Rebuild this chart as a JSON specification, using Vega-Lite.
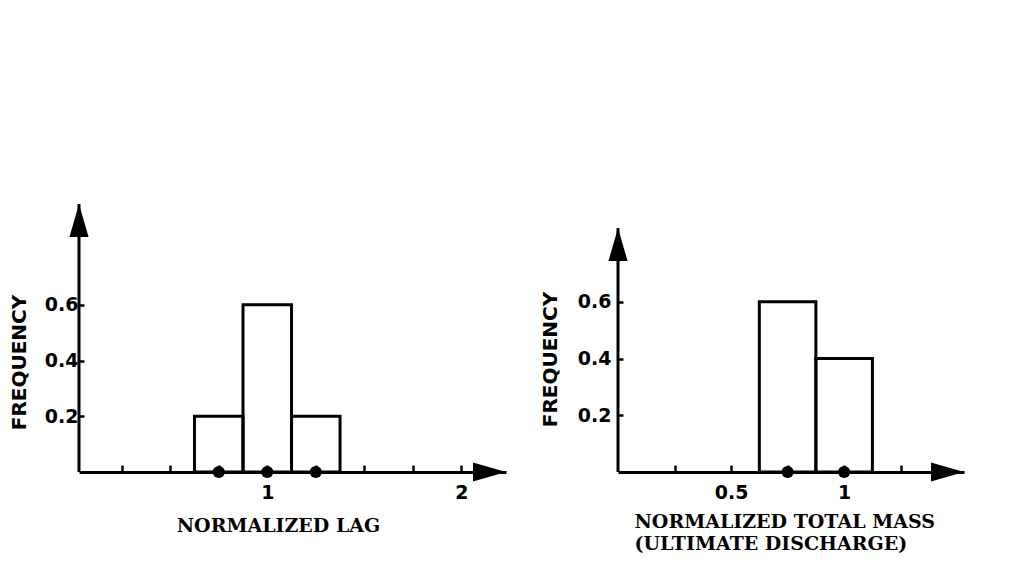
{
  "$schema": "https://vega.github.io/schema/vega-lite/v6.json",
  "background": "white",
  "padding": {"left": 9, "top": 202, "right": 5, "bottom": 5},
  "spacing": 112,
  "bounds": "flush",
  "config": {
    "view": {"stroke": null},
    "axis": {
      "grid": false,
      "domainColor": "black",
      "domainWidth": 3,
      "tickColor": "black",
      "tickWidth": 2.5,
      "labelColor": "black",
      "titleColor": "black",
      "labelFont": "DejaVu Sans",
      "labelFontWeight": "bold",
      "labelFontSize": 19,
      "labelOverlap": false,
      "labelFlush": false
    }
  },
  "datasets": {
    "lag_bins": [
      {"bin_start": 0.625, "bin_end": 0.875, "frequency": 0.2},
      {"bin_start": 0.875, "bin_end": 1.125, "frequency": 0.6},
      {"bin_start": 1.125, "bin_end": 1.375, "frequency": 0.2}
    ],
    "lag_points": [
      {"value": 0.75},
      {"value": 1.0},
      {"value": 1.25}
    ],
    "mass_bins": [
      {"bin_start": 0.625, "bin_end": 0.875, "frequency": 0.6},
      {"bin_start": 0.875, "bin_end": 1.125, "frequency": 0.4}
    ],
    "mass_points": [
      {"value": 0.75},
      {"value": 1.0}
    ]
  },
  "hconcat": [
    {
      "width": 427,
      "height": 268,
      "layer": [
        {
          "data": {"name": "lag_bins"},
          "mark": {"type": "rect", "filled": false, "stroke": "black", "strokeWidth": 3},
          "encoding": {
            "x": {
              "field": "bin_start",
              "type": "quantitative",
              "scale": {"domain": [0.03, 2.23], "nice": false, "zero": false},
              "axis": {
                "values": [0.25, 0.5, 0.75, 1, 1.25, 1.5, 1.75, 2],
                "labelExpr": "datum.value == 1 ? '1' : datum.value == 2 ? '2' : ''",
                "tickSize": -7,
                "labelPadding": 18,
                "title": "NORMALIZED LAG",
                "titleFont": "DejaVu Serif",
                "titleFontWeight": "bold",
                "titleFontSize": 19,
                "titleX": 199,
                "titleY": 44,
                "titleAlign": "center",
                "titleBaseline": "top"
              }
            },
            "x2": {"field": "bin_end"},
            "y": {
              "field": "frequency",
              "type": "quantitative",
              "scale": {"domain": [0, 0.962], "nice": false},
              "axis": {
                "values": [0.2, 0.4, 0.6],
                "format": ".1f",
                "domain": false,
                "tickSize": -5,
                "labelPadding": 6,
                "title": "FREQUENCY",
                "titleFont": "DejaVu Sans",
                "titleFontWeight": "bold",
                "titleFontSize": 20,
                "titleAngle": 270,
                "titleX": -60,
                "titleY": 158,
                "titleAlign": "center",
                "titleBaseline": "middle"
              }
            },
            "y2": {"datum": 0}
          }
        },
        {
          "data": {"values": [{}]},
          "mark": {"type": "rule", "stroke": "black", "strokeWidth": 3},
          "encoding": {
            "x": {"datum": 0.03, "type": "quantitative"},
            "y": {"datum": 0, "type": "quantitative"},
            "y2": {"datum": 0.962}
          }
        },
        {
          "data": {"values": [{}]},
          "mark": {"type": "point", "filled": true, "color": "black", "opacity": 1, "shape": "M0,0L-1,-0.29L-1,0.29Z", "size": 4356},
          "encoding": {
            "x": {"datum": 2.23, "type": "quantitative"},
            "y": {"datum": 0, "type": "quantitative"}
          }
        },
        {
          "data": {"values": [{}]},
          "mark": {"type": "point", "filled": true, "color": "black", "opacity": 1, "shape": "M0,0L-0.29,1L0.29,1Z", "size": 4356},
          "encoding": {
            "x": {"datum": 0.03, "type": "quantitative"},
            "y": {"datum": 0.962, "type": "quantitative"}
          }
        },
        {
          "data": {"name": "lag_points"},
          "mark": {"type": "point", "filled": true, "color": "black", "opacity": 1, "shape": "circle", "size": 150},
          "encoding": {
            "x": {"field": "value", "type": "quantitative"},
            "y": {"datum": 0, "type": "quantitative"}
          }
        }
      ]
    },
    {
      "width": 346,
      "height": 268,
      "layer": [
        {
          "data": {"name": "mass_bins"},
          "mark": {"type": "rect", "filled": false, "stroke": "black", "strokeWidth": 3},
          "encoding": {
            "x": {
              "field": "bin_start",
              "type": "quantitative",
              "scale": {"domain": [0, 1.53], "nice": false, "zero": false},
              "axis": {
                "values": [0.25, 0.5, 0.75, 1, 1.25],
                "labelExpr": "datum.value == 0.5 ? '0.5' : datum.value == 1 ? '1' : ''",
                "tickSize": -7,
                "labelPadding": 18,
                "title": ["NORMALIZED TOTAL MASS", "(ULTIMATE DISCHARGE)"],
                "titleFont": "DejaVu Serif",
                "titleFontWeight": "bold",
                "titleFontSize": 19,
                "titleLineHeight": 22,
                "titleX": 16,
                "titleY": 40,
                "titleAlign": "left",
                "titleBaseline": "top"
              }
            },
            "x2": {"field": "bin_end"},
            "y": {
              "field": "frequency",
              "type": "quantitative",
              "scale": {"domain": [0, 0.945], "nice": false},
              "axis": {
                "values": [0.2, 0.4, 0.6],
                "format": ".1f",
                "domain": false,
                "tickSize": -5,
                "labelPadding": 12,
                "title": "FREQUENCY",
                "titleFont": "DejaVu Sans",
                "titleFontWeight": "bold",
                "titleFontSize": 20,
                "titleAngle": 270,
                "titleX": -68,
                "titleY": 155,
                "titleAlign": "center",
                "titleBaseline": "middle"
              }
            },
            "y2": {"datum": 0}
          }
        },
        {
          "data": {"values": [{}]},
          "mark": {"type": "rule", "stroke": "black", "strokeWidth": 3},
          "encoding": {
            "x": {"datum": 0, "type": "quantitative"},
            "y": {"datum": 0, "type": "quantitative"},
            "y2": {"datum": 0.86}
          }
        },
        {
          "data": {"values": [{}]},
          "mark": {"type": "point", "filled": true, "color": "black", "opacity": 1, "shape": "M0,0L-1,-0.29L-1,0.29Z", "size": 4356},
          "encoding": {
            "x": {"datum": 1.53, "type": "quantitative"},
            "y": {"datum": 0, "type": "quantitative"}
          }
        },
        {
          "data": {"values": [{}]},
          "mark": {"type": "point", "filled": true, "color": "black", "opacity": 1, "shape": "M0,0L-0.29,1L0.29,1Z", "size": 4356},
          "encoding": {
            "x": {"datum": 0, "type": "quantitative"},
            "y": {"datum": 0.86, "type": "quantitative"}
          }
        },
        {
          "data": {"name": "mass_points"},
          "mark": {"type": "point", "filled": true, "color": "black", "opacity": 1, "shape": "circle", "size": 150},
          "encoding": {
            "x": {"field": "value", "type": "quantitative"},
            "y": {"datum": 0, "type": "quantitative"}
          }
        }
      ]
    }
  ]
}
